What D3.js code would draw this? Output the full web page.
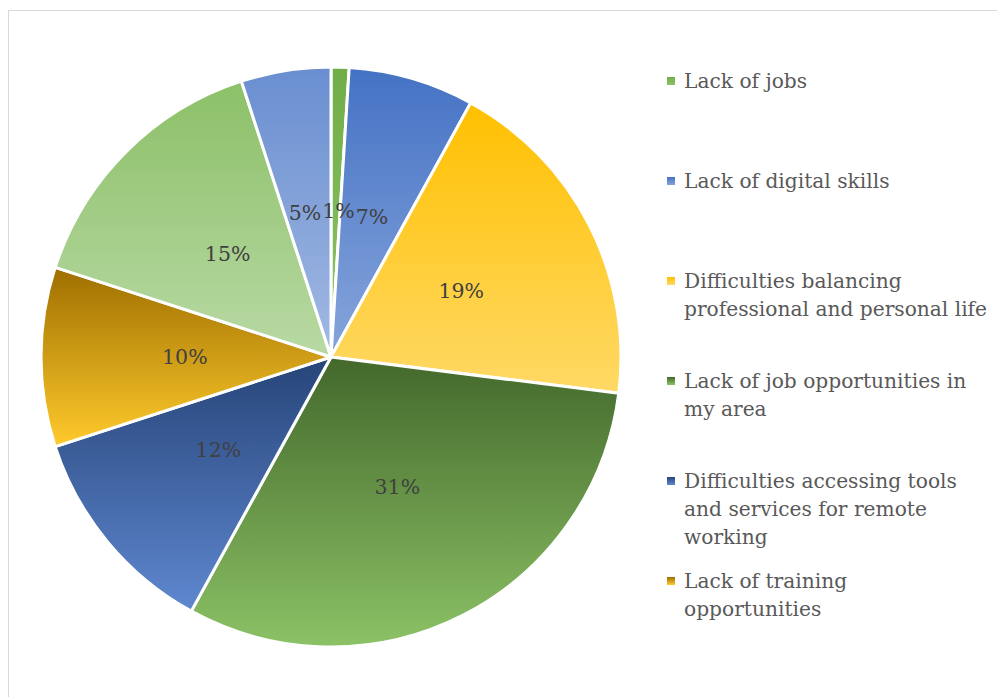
<!DOCTYPE html>
<html>
<head>
<meta charset="utf-8">
<script src="https://cdn.jsdelivr.net/npm/d3@7"></script>
<style>
  html, body { margin: 0; padding: 0; background: #ffffff; }
  svg { display: block; }
</style>
</head>
<body>
<svg id="chart" width="997" height="697"></svg>
<script>
// Share of respondents by main difficulty (percent)
const categories = [
  "Lack of jobs",
  "Lack of digital skills",
  "Difficulties balancing professional and personal life",
  "Lack of job opportunities in my area",
  "Difficulties accessing tools and services for remote working",
  "Lack of training opportunities",
  "Other",
  "None"
];
const values = [1, 7, 19, 31, 12, 10, 15, 5];

// Legend text, broken into lines as shown in the legend box
const legendLines = [
  ["Lack of jobs"],
  ["Lack of digital skills"],
  ["Difficulties balancing", "professional and personal life"],
  ["Lack of job opportunities in", "my area"],
  ["Difficulties accessing tools", "and services for remote", "working"],
  ["Lack of training", "opportunities"]
];

// Top and bottom colours of each slice's vertical gradient
const gradTop    = ["#70ad47", "#4472c4", "#ffc000", "#43682b", "#264478", "#9e6f00", "#8cc068", "#698ed0"];
const gradBottom = ["#8ec46b", "#87a5db", "#ffd966", "#8cc266", "#5f88d0", "#ffca2c", "#b8d9a4", "#a2b9e3"];

const svg = d3.select("#chart");
const W = 997, H = 697;

// chart frame
svg.append("rect")
  .attr("x", 8.5).attr("y", 10.5)
  .attr("width", W + 20).attr("height", H + 20)
  .attr("fill", "#ffffff")
  .attr("stroke", "#d9d9d9").attr("stroke-width", 1);

const defs = svg.append("defs");
values.forEach((v, i) => {
  const g = defs.append("linearGradient")
    .attr("id", "grad" + i)
    .attr("x1", 0).attr("y1", 0).attr("x2", 0).attr("y2", 1);
  g.append("stop").attr("offset", "0%").attr("stop-color", gradTop[i]);
  g.append("stop").attr("offset", "100%").attr("stop-color", gradBottom[i]);
});

const cx = 331, cy = 357, R = 290;
const data = values.map((v, i) => ({ name: categories[i], value: v, index: i }));

const pie = d3.pie().value(d => d.value).sort(null);
const arcs = pie(data);
const arc = d3.arc().innerRadius(0).outerRadius(R);
const labelArc = d3.arc().innerRadius(R * 0.504).outerRadius(R * 0.504);

const g = svg.append("g").attr("transform", `translate(${cx},${cy})`);

g.selectAll("path.slice")
  .data(arcs)
  .join("path")
  .attr("class", "slice")
  .attr("d", arc)
  .attr("fill", d => `url(#grad${d.data.index})`)
  .attr("stroke", "#ffffff")
  .attr("stroke-width", 3)
  .attr("stroke-linejoin", "round");

// percentage labels at the slice centroids
const labels = g.selectAll("text.pct")
  .data(arcs)
  .join("text")
  .attr("class", "pct")
  .attr("text-anchor", "middle")
  .attr("dominant-baseline", "central")
  .attr("font-family", "'DejaVu Serif', serif")
  .attr("font-size", 20.5)
  .attr("fill", "#404040")
  .text(d => d3.format(".0f")(d.data.value) + "%");

// spread labels that sit on the same row so they do not collide
const pos = arcs.map((d, i) => {
  const [x, y] = labelArc.centroid(d);
  return { x, y, w: labels.nodes()[i].getComputedTextLength(), i };
});
for (let pass = 0; pass < 20; pass++) {
  const sorted = pos.slice().sort((a, b) => a.x - b.x);
  for (let k = 0; k < sorted.length; k++) {
    for (let m = k + 1; m < sorted.length; m++) {
      const a = sorted[k], b = sorted[m];
      if (Math.abs(a.y - b.y) > 20) continue;
      const need = (a.w + b.w) / 2 + 1 - (b.x - a.x);
      if (need > 0) { a.x -= need / 2; b.x += need / 2; }
    }
  }
}
labels.attr("transform", (d, i) => `translate(${pos[i].x},${pos[i].y})`);

// legend: first six entries fit in the legend area
const legend = svg.append("g").attr("class", "legend");
const legendY = d3.scaleLinear().domain([0, 1]).range([81, 181]);
const lineH = 28;

legendLines.forEach((lines, i) => {
  const y0 = legendY(i);
  const item = legend.append("g");
  item.append("rect")
    .attr("x", 667).attr("y", y0 - 4)
    .attr("width", 8).attr("height", 8)
    .attr("fill", `url(#grad${i})`);
  const t = item.append("text")
    .attr("x", 684).attr("y", y0)
    .attr("dominant-baseline", "central")
    .attr("font-family", "'DejaVu Serif', serif")
    .attr("font-size", 20.2)
    .attr("fill", "#595959");
  lines.forEach((ln, j) => {
    t.append("tspan").attr("x", 684).attr("y", y0 + j * lineH).text(ln);
  });
});
</script>
</body>
</html>
